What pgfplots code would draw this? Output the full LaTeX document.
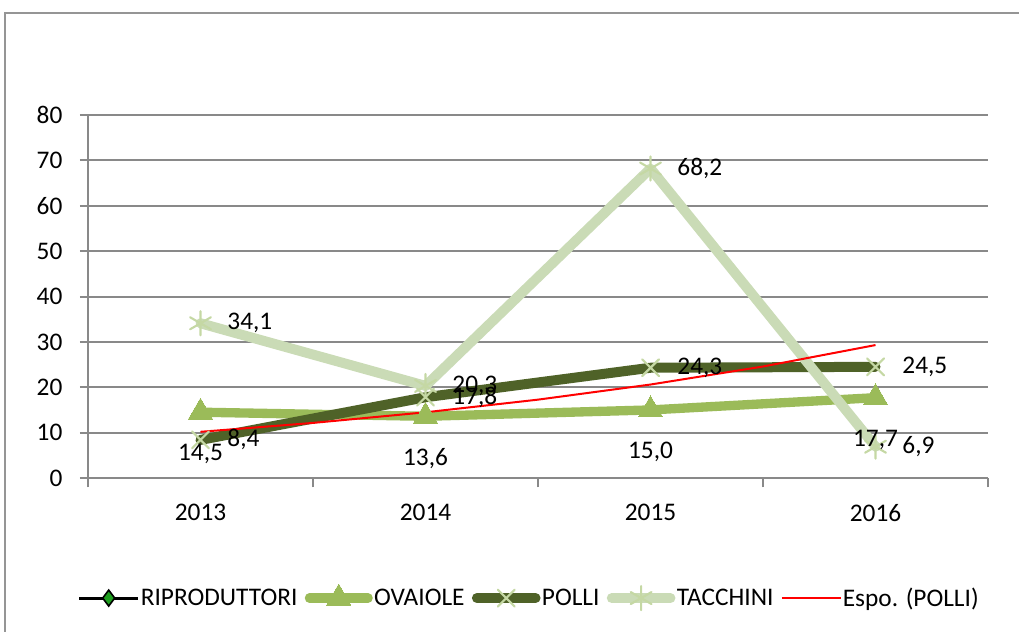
\documentclass[border=0pt]{standalone}
\usepackage{pgfplots}
\pgfplotsset{compat=1.18}
\usepackage{pgfplotstable}
\usepackage{fontspec}
\setmainfont{Carlito}
\definecolor{gridgray}{HTML}{898989}
\definecolor{ova}{HTML}{9BBB59}
\definecolor{pol}{HTML}{4F6228}
\definecolor{tac}{HTML}{CADBB6}
\definecolor{polmark}{HTML}{C5D8A4}
\definecolor{ripfill}{HTML}{1E9E1E}

\pgfplotstableread{
x ova pol tac
0 14.5 8.4 34.1
1 13.6 17.8 20.3
2 15.0 24.3 68.2
3 17.7 24.5 6.9
}\data

\pgfplotstableread{
x y
0 10.18
0.5 12.14
1 14.48
1.5 17.27
2 20.60
2.5 24.57
3 29.30
}\trend

\begin{document}
\begin{tikzpicture}[font=\fontsize{19}{23}\selectfont]
\begin{axis}[
  at={(66pt,114.75pt)}, anchor=south west,
  scale only axis, width=675pt, height=272.25pt,
  xmin=-0.5, xmax=3.5, ymin=0, ymax=80,
  xtick={0,1,2,3}, xticklabels={2013,2014,2015,2016},
  minor xtick={-0.5,0.5,1.5,2.5,3.5},
  ytick={0,10,...,80},
  axis x line*=bottom, axis y line*=left,
  axis line style={gridgray, line width=1.5pt},
  ymajorgrids, major grid style={gridgray, line width=1.5pt},
  tick align=outside,
  major x tick style={draw=none},
  major y tick style={gridgray, line width=1.5pt},
  minor x tick style={gridgray, line width=1.5pt},
  major tick length=6pt, minor tick length=7pt,
  yticklabel style={anchor=east, inner sep=0pt, xshift=-13pt},
  xticklabel style={anchor=center, inner sep=0pt, yshift=-20pt},
  /pgf/number format/assume math mode=true,
  legend style={at={(0.49,-0.328)}, anchor=center, draw=none, fill=none,
    legend columns=5,
    /tikz/every even column/.append style={column sep=4.5pt},
    nodes={inner xsep=1pt, inner ysep=0pt, font=\fontsize{19}{23}\selectfont}},
  legend image code/.code={\draw[mark repeat=2, mark phase=2, #1] plot coordinates {(0pt,0pt) (22pt,0pt) (44pt,0pt)};},
  clip=false,
]
\addlegendimage{black, line width=2.2pt, mark=diamond*, mark size=6pt, mark options={fill=ripfill, draw=black, line width=1.2pt}}
\addlegendentry{RIPRODUTTORI}

\addplot[ova, line width=7pt, line join=round, line cap=round, mark=triangle*, mark size=10.5pt, mark options={fill=ova, draw=ova, line width=0pt}]
  table[x=x, y=ova] {\data};
\addlegendentry{OVAIOLE}

\addplot[pol, line width=7.5pt, line join=round, line cap=round, mark=x, mark size=9pt, mark options={draw=polmark, line width=1.6pt}]
  table[x=x, y=pol] {\data};
\addlegendentry{POLLI}

\addplot[tac, line width=7.5pt, line join=round, line cap=round, mark=asterisk, mark size=9pt, mark options={draw=polmark, line width=1.6pt}]
  table[x=x, y=tac] {\data};
\addlegendentry{TACCHINI}

\addplot[red, line width=1.5pt] table[x=x, y=y] {\trend};
\addlegendentry{Espo. (POLLI)}

% data labels on top
\addplot[draw=none, forget plot, nodes near coords, point meta=\thisrow{ova},
  every node near coord/.append style={anchor=center, inner sep=0pt, yshift=-31.5pt, black, font=\fontsize{19}{23}\selectfont,
  /pgf/number format/.cd, fixed, fixed zerofill, precision=1, use comma, assume math mode=true}]
  table[x=x, y=ova] {\data};
\addplot[draw=none, forget plot, nodes near coords, point meta=\thisrow{pol},
  every node near coord/.append style={anchor=west, inner sep=0pt, xshift=20pt, black, font=\fontsize{19}{23}\selectfont,
  /pgf/number format/.cd, fixed, fixed zerofill, precision=1, use comma, assume math mode=true}]
  table[x=x, y=pol] {\data};
\addplot[draw=none, forget plot, nodes near coords, point meta=\thisrow{tac},
  every node near coord/.append style={anchor=west, inner sep=0pt, xshift=20pt, black, font=\fontsize{19}{23}\selectfont,
  /pgf/number format/.cd, fixed, fixed zerofill, precision=1, use comma, assume math mode=true}]
  table[x=x, y=tac] {\data};
\end{axis}
\draw[gridgray!90, line width=1.5pt] (3.75pt,-5pt) -- (3.75pt,463.5pt) -- (775pt,463.5pt);
\pgfresetboundingbox
\useasboundingbox (0,0) rectangle (764.25pt,473.25pt);
\end{tikzpicture}
\end{document}
